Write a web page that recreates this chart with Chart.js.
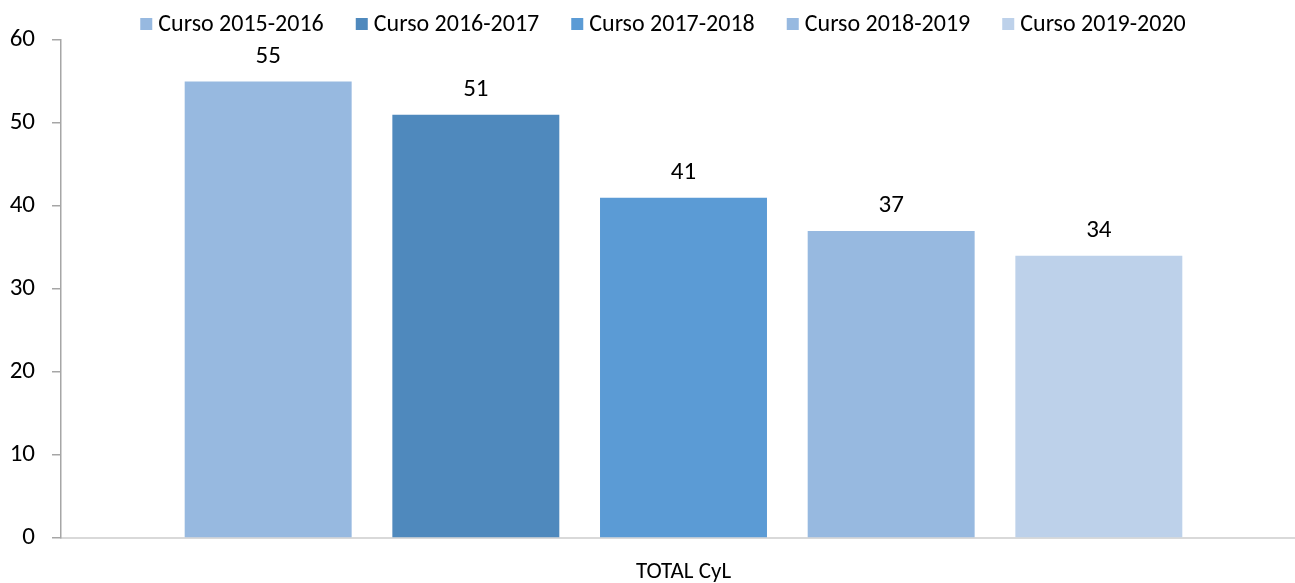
<!DOCTYPE html>
<html>
<head>
<meta charset="utf-8">
<script src="https://cdn.jsdelivr.net/npm/chart.js@4"></script>
<style>
html,body{margin:0;padding:0;background:#fff;overflow:hidden;}
#wrap{width:1295px;height:583px;position:relative;overflow:hidden;}
</style>
</head>
<body>
<div id="wrap"><canvas id="c" width="1306" height="583"></canvas></div>
<script>
const categories = ["TOTAL CyL"];
const seriesNames = ["Curso 2015-2016", "Curso 2016-2017", "Curso 2017-2018", "Curso 2018-2019", "Curso 2019-2020"];
const values2015 = [55];
const values2016 = [51];
const values2017 = [41];
const values2018 = [37];
const values2019 = [34];
const seriesColors = ["#97B9E0", "#4F89BD", "#5B9BD5", "#97B9E0", "#BDD1EA"];
const yTicks = [0, 10, 20, 30, 40, 50, 60];

const FONT = "Carlito, Lato, 'Open Sans', sans-serif";
const allValues = [values2015, values2016, values2017, values2018, values2019];

const datasets = seriesNames.map((n, i) => ({
  label: n,
  data: allValues[i],
  backgroundColor: seriesColors[i],
  borderWidth: 0,
  categoryPercentage: 0.834,
  barPercentage: 0.804
}));

const dataLabels = {
  id: 'dataLabels',
  afterDatasetsDraw(chart) {
    const ctx = chart.ctx;
    ctx.save();
    ctx.font = "25px " + FONT;
    ctx.fillStyle = "#000";
    ctx.textAlign = "center";
    ctx.textBaseline = "middle";
    chart.data.datasets.forEach((ds, i) => {
      const meta = chart.getDatasetMeta(i);
      meta.data.forEach((bar, j) => {
        ctx.fillText(String(ds.data[j]), bar.x, bar.y - 25);
      });
    });
    ctx.restore();
  }
};

// Custom top legend (box + text, centred)
const topLegend = {
  id: 'topLegend',
  afterDraw(chart) {
    const ctx = chart.ctx;
    ctx.save();
    ctx.font = "24px " + FONT;
    ctx.textBaseline = "middle";
    ctx.textAlign = "left";
    const box = 12, gapBoxText = 6, gapItems = 32;
    const items = chart.data.datasets.map(ds => ({ label: ds.label, color: ds.backgroundColor, w: ctx.measureText(ds.label).width }));
    const total = items.reduce((s, it) => s + box + gapBoxText + it.w, 0) + gapItems * (items.length - 1);
    const centre = 663;
    let x = centre - total / 2;
    const y = 24;
    items.forEach(it => {
      ctx.fillStyle = it.color;
      ctx.fillRect(x, y - box / 2, box, box);
      ctx.fillStyle = "#000";
      ctx.fillText(it.label, x + box + gapBoxText, y + 1);
      x += box + gapBoxText + it.w + gapItems;
    });
    ctx.restore();
  }
};

new Chart(document.getElementById('c'), {
  type: 'bar',
  data: { labels: categories, datasets },
  options: {
    responsive: false,
    animation: false,
    layout: { padding: { left: 0, right: 0, top: 40, bottom: 0 } },
    plugins: {
      legend: { display: false },
      tooltip: { enabled: false },
      title: { display: false }
    },
    scales: {
      x: {
        afterFit(s) { s.height = 45; },
        grid: { display: false },
        border: { display: true, color: '#D9D9D9', width: 2 },
        ticks: { color: '#000', font: { family: FONT, size: 23 }, padding: 12 }
      },
      y: {
        min: 0, max: 60,
        afterFit(s) { s.width = 61; },
        afterBuildTicks(s) { s.ticks = yTicks.map(v => ({ value: v })); },
        grid: { display: true, drawOnChartArea: false, drawTicks: true, tickLength: 9, color: '#A6A6A6', lineWidth: 1.5 },
        border: { display: true, color: '#A6A6A6', width: 1.5 },
        ticks: { color: '#000', font: { family: FONT, size: 25 }, padding: 17 }
      }
    }
  },
  plugins: [dataLabels, topLegend]
});
</script>
</body>
</html>
